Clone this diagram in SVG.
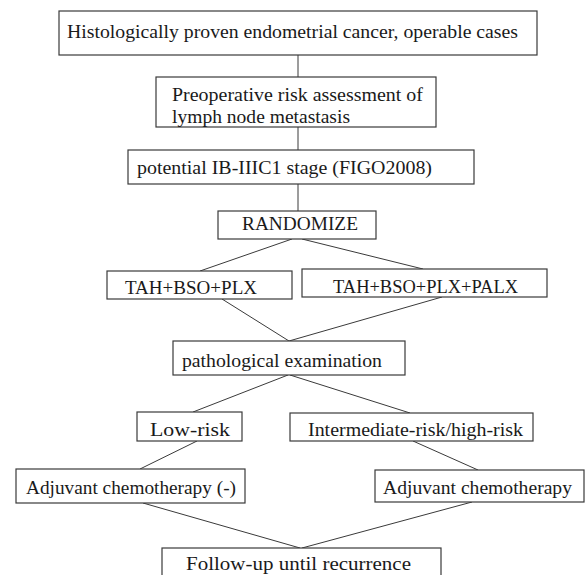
<svg xmlns="http://www.w3.org/2000/svg" width="586" height="575" viewBox="0 0 586 575">
<style>
rect{fill:#fff;stroke:#3a3a3a;stroke-width:1.2}
text{font-family:"Liberation Serif","Times New Roman",serif;font-size:19px;fill:#1a1a1a}
.c line{stroke:#3a3a3a;stroke-width:1}
</style>
<rect x="0" y="0" width="586" height="575" style="stroke:none"/>
<g class="c" id="connectors">
<line x1="298" y1="55" x2="298" y2="77"/>
<line x1="298" y1="127" x2="298" y2="150"/>
<line x1="298" y1="184" x2="298" y2="211"/>
<line x1="292" y1="239" x2="200" y2="271"/>
<line x1="302" y1="239" x2="423" y2="269"/>
<line x1="222" y1="299" x2="289" y2="341"/>
<line x1="442" y1="297" x2="289" y2="341"/>
<line x1="288" y1="375" x2="193" y2="412"/>
<line x1="290" y1="375" x2="410" y2="413"/>
<line x1="197" y1="441" x2="140" y2="469"/>
<line x1="413" y1="441" x2="478" y2="470"/>
<line x1="143" y1="503" x2="300" y2="548"/>
<line x1="472" y1="502" x2="302" y2="548"/>
</g>
<g id="n1"><rect x="59" y="11" width="478" height="44"/><text x="67" y="38" textLength="451" lengthAdjust="spacingAndGlyphs">Histologically proven endometrial cancer, operable cases</text></g>
<g id="n2"><rect x="156" y="77" width="280" height="50"/><text x="172" y="101" textLength="251" lengthAdjust="spacingAndGlyphs">Preoperative risk assessment of</text><text x="172" y="123" textLength="178" lengthAdjust="spacingAndGlyphs">lymph node metastasis</text></g>
<g id="n3"><rect x="128" y="150" width="346" height="34"/><text x="137" y="174" textLength="295" lengthAdjust="spacingAndGlyphs">potential IB-IIIC1 stage (FIGO2008)</text></g>
<g id="n4"><rect x="218" y="211" width="158" height="28"/><text x="242" y="230" textLength="116" lengthAdjust="spacingAndGlyphs">RANDOMIZE</text></g>
<g id="n5"><rect x="107" y="271" width="185" height="28"/><text x="125" y="294" textLength="132" lengthAdjust="spacingAndGlyphs">TAH+BSO+PLX</text></g>
<g id="n6"><rect x="302" y="269" width="245" height="28"/><text x="333" y="293" textLength="185" lengthAdjust="spacingAndGlyphs">TAH+BSO+PLX+PALX</text></g>
<g id="n7"><rect x="173" y="341" width="232" height="34"/><text x="182" y="367" textLength="200" lengthAdjust="spacingAndGlyphs">pathological examination</text></g>
<g id="n8"><rect x="137" y="412" width="105" height="29"/><text x="150" y="436" textLength="80" lengthAdjust="spacingAndGlyphs">Low-risk</text></g>
<g id="n9"><rect x="290" y="413" width="243" height="28"/><text x="308" y="436" textLength="215" lengthAdjust="spacingAndGlyphs">Intermediate-risk/high-risk</text></g>
<g id="n10"><rect x="16" y="469" width="229" height="34"/><text x="26" y="494" textLength="210" lengthAdjust="spacingAndGlyphs">Adjuvant chemotherapy (-)</text></g>
<g id="n11"><rect x="375" y="470" width="209" height="32"/><text x="383" y="494" textLength="189" lengthAdjust="spacingAndGlyphs">Adjuvant chemotherapy</text></g>
<g id="n12"><rect x="162" y="548" width="279" height="32"/><text x="186" y="570" textLength="225" lengthAdjust="spacingAndGlyphs">Follow-up until recurrence</text></g>
</svg>
